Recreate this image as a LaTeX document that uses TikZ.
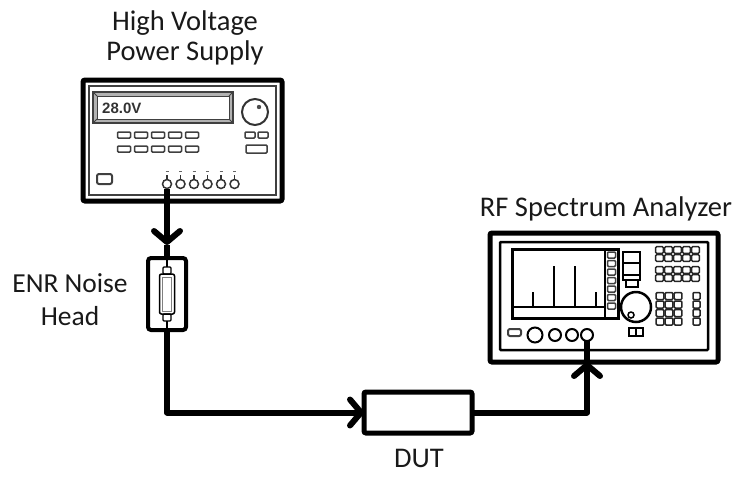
\documentclass[tikz,border=0pt]{standalone}
\usepackage{fontspec}
\setmainfont{Carlito}
\newfontfamily\readoutfont{Liberation Sans}
\usetikzlibrary{arrows.meta}
\begin{document}
\begin{tikzpicture}[x=1pt,y=-1pt,
  box/.style={draw=black, line width=5pt, rounded corners=2pt, outer sep=0pt, inner sep=0pt},
  cable/.style={draw=black, line width=6pt, line join=round},
  barb/.style={-{Straight Barb[length=11pt,width=26pt,round]}},
  lbltext/.style={font=\fontsize{28.5}{30}\selectfont, align=center, text=black!90, inner sep=0pt},
  trim/.style={draw=black!75, line width=1.5pt},
  btn/.style={draw=black!75, line width=1.5pt, rounded corners=1pt},
  panel/.style={draw=black, line width=2.5pt},
  jack/.style={circle, draw=black!80, line width=1.5pt, minimum size=9pt, inner sep=0pt, outer sep=0pt},
]
\useasboundingbox (0,0) rectangle (735,477);

% ---------- high voltage power supply ----------
\node[box, minimum width=199pt, minimum height=121pt] (psu) at (182.5,140.5) {};
\draw[trim] (89,86) rectangle (276,195);
% display window with bevelled frame
\fill[black!30, even odd rule] (93,92) rectangle (233,123) (97,96) rectangle (229,119);
\draw[trim] (93,92) rectangle (233,123);
\draw[trim, line width=1pt] (97,96) rectangle (229,119);
\draw[trim, line width=1pt] (93,92) -- (97,96) (233,92) -- (229,96) (93,123) -- (97,119) (233,123) -- (229,119);
\node[anchor=west, inner sep=0pt, font=\readoutfont\bfseries\fontsize{15}{15}\selectfont, text=black!80] (readout) at (102,108) {28.0V};
% knob
\draw[black!80, line width=2pt] (255,112) circle (13pt);
\fill[black!70] (259,107) circle (2.2pt);
% keys
\foreach \x in {124,141,158,175,192} {
  \draw[btn] (\x-6.5,132) rectangle (\x+6.5,138);
  \draw[btn] (\x-6.5,146) rectangle (\x+6.5,152);
}
\draw[btn] (245,132) rectangle (255,138);
\draw[btn] (258,132) rectangle (268,138);
\draw[btn] (246,145) rectangle (267,153);
\draw[btn, line width=2pt, rounded corners=2pt] (97,174) rectangle (112,184);
% output terminals
\foreach \x [count=\i] in {167,180.5,194,207.5,221,234.5} {
  \node[jack] (t\i) at (\x,184) {};
  \draw[black!80, line width=1.2pt] (\x,175) -- (\x,179.5);
  \draw[black!60, line width=0.8pt] (\x-1.5,171) -- (\x+1.5,171);
}

% ---------- RF spectrum analyzer ----------
\node[box, minimum width=228pt, minimum height=129pt] (sa) at (604,297.5) {};
\draw[panel, rounded corners=1pt] (500,242) rectangle (708,350);
% screen with spectrum trace
\draw[panel, line width=3pt] (512,249) rectangle (618,318);
\draw[black, line width=1.5pt] (605,249) -- (605,318);
\draw[black, line width=2.5pt] (512,307) -- (605,307);
\foreach \x/\t in {533/292,554/266,575/266,596/292}
  \draw[black, line width=2.8pt] (\x,307) -- (\x,\t);
\foreach \y in {255,263.5,272,280.5,289,297.5,306}
  \draw[btn] (607.5,\y-3) rectangle (615.5,\y+3);
% menu keys
\draw[black, line width=2pt] (623,252) rectangle (640,263);
\draw[black, line width=2pt] (623,263) rectangle (640,275);
\draw[black, line width=2pt] (623,275) rectangle (640,280);
\draw[black, line width=2pt] (626,280) rectangle (638,287);
% tuning knob
\draw[black, line width=2.5pt] (636,307) circle (15pt);
\draw[black, line width=1.5pt] (631,315) circle (3pt);
\draw[black, line width=2pt] (629,328) rectangle (643,336);
\draw[black, line width=1.5pt] (636,328) -- (636,336);
% keypads
\foreach \x in {659.5,668.5,677.5,686.5,695.5}
  \foreach \y in {250,258,270,278}
    \draw[btn, draw=black!85] (\x-3.8,\y-3.3) rectangle (\x+3.8,\y+3.3);
\foreach \x in {660,669,678}
  \foreach \y in {296,304.5,313,321.5}
    \draw[btn, draw=black!85] (\x-3.8,\y-3.5) rectangle (\x+3.8,\y+3.5);
\foreach \y in {296,304.5,313,321.5}
  \draw[btn, draw=black!85] (693,\y-3.5) rectangle (700,\y+3.5);
% front connectors
\draw[btn, line width=2pt, rounded corners=2pt] (508,329) rectangle (521,336);
\node[jack, draw=black, line width=2pt, minimum size=15pt] (rf1) at (535,335) {};
\node[jack, draw=black, line width=2pt, minimum size=12pt] (rf2) at (555,335) {};
\node[jack, draw=black, line width=2pt, minimum size=12pt] (rf3) at (572,335) {};
\node[jack, draw=black, line width=2pt, minimum size=12pt] (rf4) at (587,335) {};

% ---------- ENR noise head ----------
\node[box, line width=4pt, rounded corners=3pt, minimum width=38pt, minimum height=72pt] (head) at (167,294) {};
\draw[black, line width=1.5pt, rounded corners=2pt] (159.5,274) rectangle (174.5,314);
\draw[black!50, line width=1pt] (162.5,277) rectangle (171.5,311);
\draw[black, line width=1.2pt, rounded corners=1pt] (163,267) rectangle (171,274);
\draw[black, line width=1.2pt, rounded corners=1pt] (163,314) rectangle (171,321);
\draw[black, line width=2.5pt] (head.north) -- (167,267);
\draw[black, line width=2.5pt] (167,321) -- (head.south);

% ---------- device under test ----------
\node[box, minimum width=108pt, minimum height=41pt] (dut) at (418,412.5) {};

% ---------- labels ----------
\node[lbltext] (psulabel) at (185,38) {High Voltage\\Power Supply};
\node[lbltext, font=\fontsize{27.5}{33}\selectfont] (headlabel) at (70,300) {ENR Noise\\Head};
\node[lbltext, anchor=base] (salabel) at (606,216) {RF Spectrum Analyzer};
\node[lbltext, anchor=base] (dutlabel) at (419,467) {DUT};

% ---------- cabling ----------
\coordinate (headin) at (167,245);
\coordinate (saentry) at (sa.south -| rf4);
\draw[cable, barb] (t1.south) -- (headin);
\draw[cable] (headin) -- (head.north);
\draw[cable, barb] (head.south) |- (dut.west);
\draw[cable, barb] (dut.east) -| (saentry);
\draw[cable] (saentry) -- (rf4.south);
\end{tikzpicture}
\end{document}
